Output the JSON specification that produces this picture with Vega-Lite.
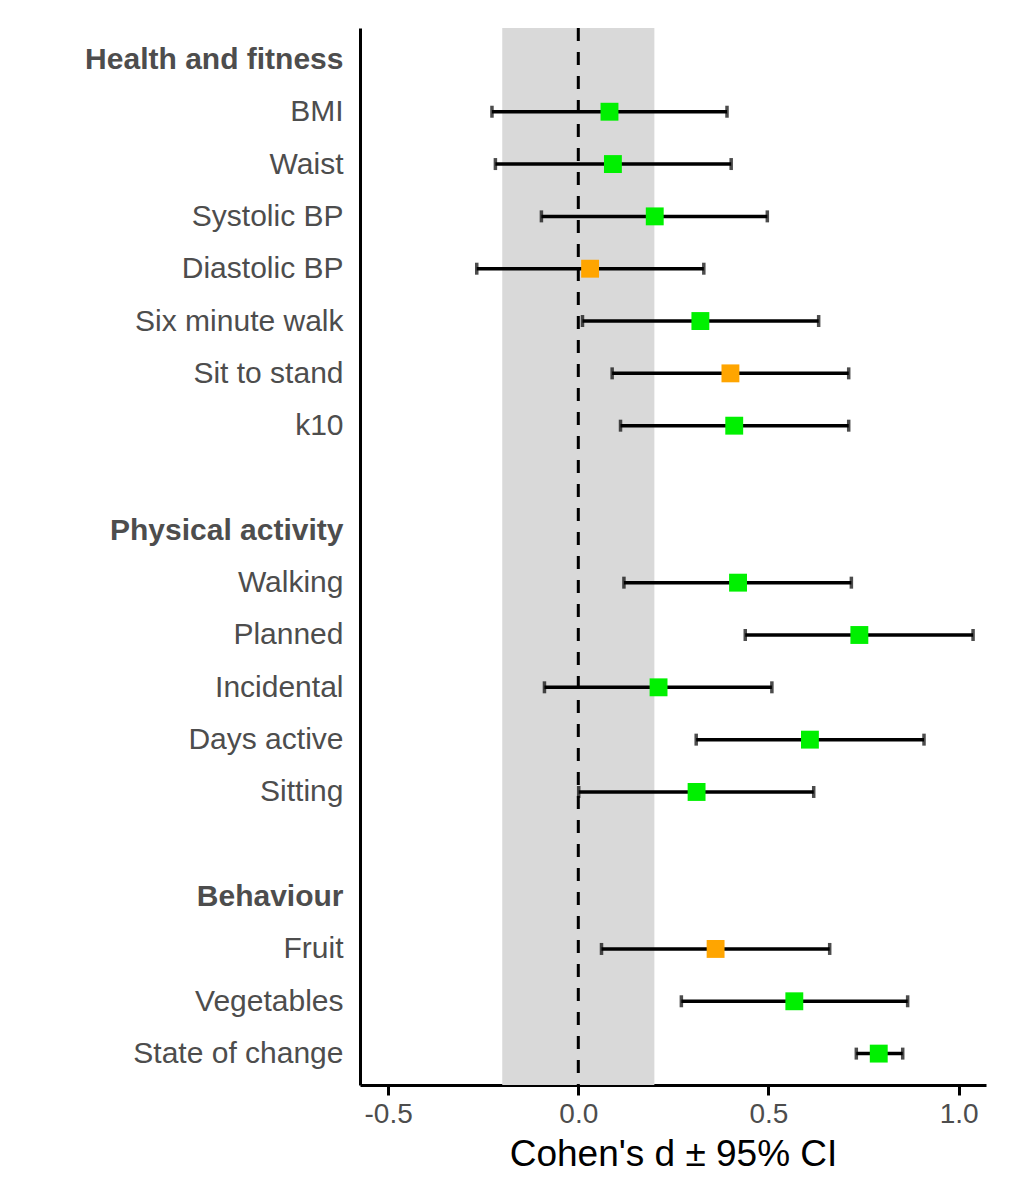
{
  "$schema": "https://vega.github.io/schema/vega-lite/v6.json",
  "width": 626,
  "height": 1057,
  "padding": {"left": 84, "top": 26, "right": 20, "bottom": 5},
  "background": "white",
  "config": {
    "view": {"stroke": null},
    "font": "Liberation Sans"
  },
  "datasets": {
    "effects": [
      {"label": "BMI", "d": 0.082, "lo": -0.227, "hi": 0.391, "group": "green"},
      {"label": "Waist", "d": 0.091, "lo": -0.218, "hi": 0.402, "group": "green"},
      {"label": "Systolic BP", "d": 0.201, "lo": -0.097, "hi": 0.497, "group": "green"},
      {"label": "Diastolic BP", "d": 0.031, "lo": -0.267, "hi": 0.330, "group": "orange"},
      {"label": "Six minute walk", "d": 0.321, "lo": 0.011, "hi": 0.632, "group": "green"},
      {"label": "Sit to stand", "d": 0.400, "lo": 0.089, "hi": 0.711, "group": "orange"},
      {"label": "k10", "d": 0.410, "lo": 0.111, "hi": 0.711, "group": "green"},
      {"label": "Walking", "d": 0.420, "lo": 0.120, "hi": 0.718, "group": "green"},
      {"label": "Planned", "d": 0.739, "lo": 0.439, "hi": 1.038, "group": "green"},
      {"label": "Incidental", "d": 0.211, "lo": -0.089, "hi": 0.509, "group": "green"},
      {"label": "Days active", "d": 0.609, "lo": 0.310, "hi": 0.909, "group": "green"},
      {"label": "Sitting", "d": 0.311, "lo": 0.001, "hi": 0.619, "group": "green"},
      {"label": "Fruit", "d": 0.361, "lo": 0.061, "hi": 0.661, "group": "orange"},
      {"label": "Vegetables", "d": 0.568, "lo": 0.271, "hi": 0.866, "group": "green"},
      {"label": "State of change", "d": 0.790, "lo": 0.731, "hi": 0.853, "group": "green"}
    ],
    "band": [{"lo": -0.2, "hi": 0.2}],
    "zero": [{"z": 0}]
  },
  "encoding": {
    "y": {
      "field": "label",
      "type": "nominal",
      "scale": {
        "type": "point",
        "padding": 0.6,
        "domain": ["Health and fitness", "BMI", "Waist", "Systolic BP", "Diastolic BP", "Six minute walk", "Sit to stand", "k10", " ", "Physical activity", "Walking", "Planned", "Incidental", "Days active", "Sitting", "  ", "Behaviour", "Fruit", "Vegetables", "State of change"]
      },
      "axis": {
        "title": null,
        "ticks": false,
        "domain": true,
        "domainColor": "black",
        "domainWidth": 3,
        "labelFontSize": 30,
        "labelColor": "#4d4d4d",
        "labelPadding": 17,
        "labelLimit": 500,
        "labelFontWeight": {
          "condition": {"test": "datum.value === 'Health and fitness' || datum.value === 'Physical activity' || datum.value === 'Behaviour'", "value": "bold"},
          "value": "normal"
        },
        "grid": false
      }
    }
  },
  "layer": [
    {
      "data": {"name": "band"},
      "mark": {"type": "rect", "color": "#d9d9d9"},
      "encoding": {
        "y": null,
        "x": {
          "field": "lo",
          "type": "quantitative",
          "scale": {"domain": [-0.574, 1.072], "nice": false, "zero": false},
          "axis": {
            "title": "Cohen's d ± 95% CI",
            "titleFontSize": 37,
            "titleFontWeight": "normal",
            "titleColor": "black",
            "titlePadding": 8,
            "values": [-0.5, 0, 0.5, 1],
            "labelExpr": "datum.value === 0 ? '0.0' : datum.value === 1 ? '1.0' : '' + datum.value",
            "labelFontSize": 28,
            "labelColor": "#4d4d4d",
            "labelPadding": 5,
            "tickSize": 10,
            "tickWidth": 3,
            "tickColor": "black",
            "domainColor": "black",
            "domainWidth": 3,
            "grid": false
          }
        },
        "x2": {"field": "hi"}
      }
    },
    {
      "data": {"name": "zero"},
      "mark": {"type": "rule", "color": "black", "strokeWidth": 3, "strokeDash": [13, 11]},
      "encoding": {
        "y": null,
        "x": {"field": "z", "type": "quantitative"}
      }
    },
    {
      "data": {"name": "effects"},
      "mark": {"type": "rule", "color": "black", "strokeWidth": 3.5},
      "encoding": {
        "x": {"field": "lo", "type": "quantitative"},
        "x2": {"field": "hi"}
      }
    },
    {
      "data": {"name": "effects"},
      "mark": {"type": "tick", "color": "black", "size": 12, "thickness": 3.5, "orient": "vertical"},
      "encoding": {
        "x": {"field": "lo", "type": "quantitative"}
      }
    },
    {
      "data": {"name": "effects"},
      "mark": {"type": "tick", "color": "black", "size": 12, "thickness": 3.5, "orient": "vertical"},
      "encoding": {
        "x": {"field": "hi", "type": "quantitative"}
      }
    },
    {
      "data": {"name": "effects"},
      "mark": {"type": "point", "shape": "square", "filled": true, "opacity": 1, "size": 320},
      "encoding": {
        "x": {"field": "d", "type": "quantitative"},
        "color": {
          "field": "group",
          "type": "nominal",
          "scale": {"domain": ["green", "orange"], "range": ["#00f000", "#ffa500"]},
          "legend": null
        }
      }
    }
  ]
}
